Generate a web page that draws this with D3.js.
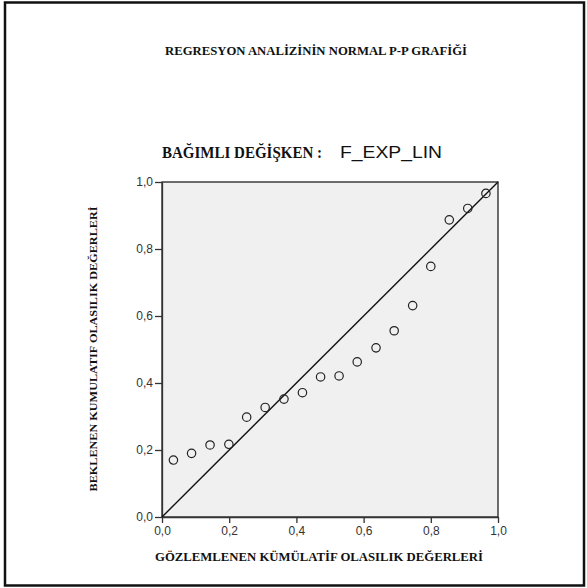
<!DOCTYPE html>
<html>
<head>
<meta charset="utf-8">
<script src="https://cdn.jsdelivr.net/npm/d3@7"></script>
<style>
  body { margin: 0; background: #fff; }
  .axis text { font-family: Arial, "Liberation Sans", sans-serif; font-size: 12px; fill: #333; }
  .axis path, .axis line { stroke: #333; stroke-width: 1.3; }
  .serif { font-family: "Liberation Serif", "Times New Roman", serif; font-weight: bold; fill: #111; }
</style>
</head>
<body>
<div id="chart"></div>
<script>
var observed = [0.034, 0.088, 0.143, 0.199, 0.252, 0.307, 0.363, 0.418, 0.472,
                0.527, 0.581, 0.637, 0.691, 0.746, 0.800, 0.855, 0.910, 0.964];
var expected = [0.170, 0.190, 0.215, 0.217, 0.298, 0.327, 0.352, 0.371, 0.418,
                0.421, 0.463, 0.505, 0.556, 0.631, 0.748, 0.887, 0.921, 0.966];
var tickValues = [0, 0.2, 0.4, 0.6, 0.8, 1.0];
var refLine = [0, 1];

var chartTitle = "REGRESYON ANALİZİNİN NORMAL P-P GRAFİĞİ";
var depLabel = "BAĞIMLI DEĞİŞKEN :";
var depName = "F_EXP_LIN";
var xTitle = "GÖZLEMLENEN KÜMÜLATİF OLASILIK DEĞERLERİ";
var yTitle = "BEKLENEN KUMULATIF OLASILIK DEĞERLERİ";

// set the dimensions and margins of the graph
var margin = {top: 182, right: 89, bottom: 71, left: 162},
    width = 587 - margin.left - margin.right,
    height = 588 - margin.top - margin.bottom;

var x = d3.scaleLinear().domain([0, 1]).range([0, width]);
var y = d3.scaleLinear().domain([0, 1]).range([height, 0]);

var fmt = function(d) { return d3.format(".1f")(d).replace(".", ","); };

var root = d3.select("#chart").append("svg")
    .attr("width", 587)
    .attr("height", 588);

// outer frame
root.append("rect")
    .attr("x", 5).attr("y", 2.5)
    .attr("width", 579).attr("height", 583)
    .attr("fill", "none")
    .attr("stroke", "#111")
    .attr("stroke-width", 2.5);

// titles
root.append("text")
    .attr("class", "serif")
    .attr("x", 165).attr("y", 55)
    .attr("font-size", 13)
    .attr("textLength", 302)
    .attr("lengthAdjust", "spacingAndGlyphs")
    .text(chartTitle);

root.append("text")
    .attr("class", "serif")
    .attr("x", 162).attr("y", 158)
    .attr("font-size", 16)
    .attr("textLength", 160)
    .attr("lengthAdjust", "spacingAndGlyphs")
    .text(depLabel);

root.append("text")
    .attr("x", 340).attr("y", 158)
    .attr("font-family", "Arial, 'Liberation Sans', sans-serif")
    .attr("font-size", 16)
    .attr("fill", "#111")
    .attr("textLength", 102)
    .attr("lengthAdjust", "spacingAndGlyphs")
    .text(depName);

root.append("text")
    .attr("class", "serif")
    .attr("x", 155).attr("y", 561)
    .attr("font-size", 12)
    .attr("textLength", 328)
    .attr("lengthAdjust", "spacingAndGlyphs")
    .text(xTitle);

root.append("text")
    .attr("class", "serif")
    .attr("transform", "translate(97,349) rotate(-90)")
    .attr("text-anchor", "middle")
    .attr("font-size", 11)
    .attr("textLength", 285)
    .attr("lengthAdjust", "spacingAndGlyphs")
    .text(yTitle);

var svg = root.append("g")
    .attr("transform", "translate(" + margin.left + "," + margin.top + ")");

// plot background and frame
svg.append("rect")
    .attr("width", width).attr("height", height)
    .attr("fill", "#f0f0f0")
    .attr("stroke", "#222")
    .attr("stroke-width", 1.3);

// add the x Axis
svg.append("g")
    .attr("class", "x axis")
    .attr("transform", "translate(0," + height + ")")
    .call(d3.axisBottom(x).tickValues(tickValues).tickFormat(fmt).tickSize(6).tickPadding(3).tickSizeOuter(0));

// add the y Axis
svg.append("g")
    .attr("class", "y axis")
    .call(d3.axisLeft(y).tickValues(tickValues).tickFormat(fmt).tickSize(7).tickPadding(2).tickSizeOuter(0));

// reference diagonal
svg.append("line")
    .attr("x1", x(refLine[0])).attr("y1", y(refLine[0]))
    .attr("x2", x(refLine[1])).attr("y2", y(refLine[1]))
    .attr("stroke", "#111")
    .attr("stroke-width", 1.4);

// points
svg.selectAll(".dot")
    .data(observed)
    .enter().append("circle")
    .attr("class", "dot")
    .attr("cx", function(d) { return x(d); })
    .attr("cy", function(d, i) { return y(expected[i]); })
    .attr("r", 4.2)
    .attr("fill", "none")
    .attr("stroke", "#222")
    .attr("stroke-width", 1.2);
</script>
</body>
</html>
